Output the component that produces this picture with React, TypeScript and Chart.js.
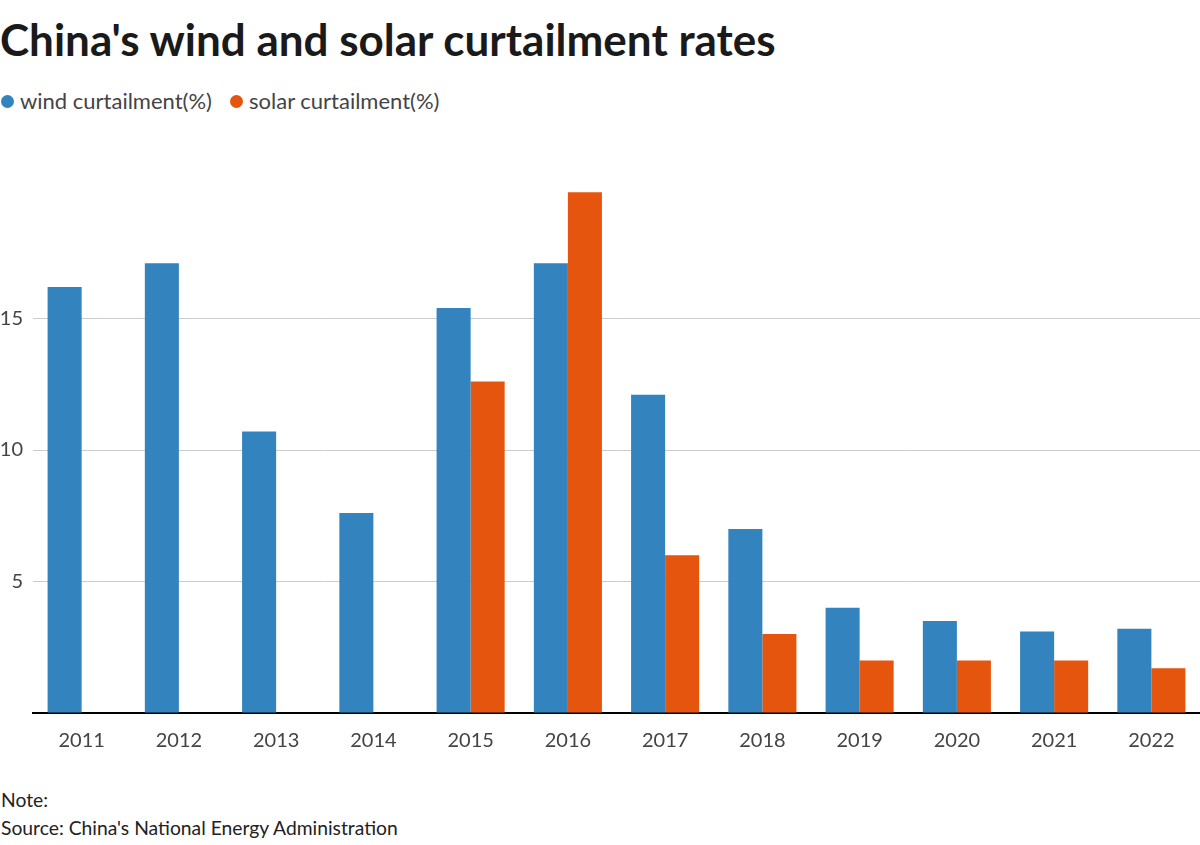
import React, { useEffect, useRef } from "react";
import { Chart, registerables } from "chart.js";

Chart.register(...registerables);

const years = ["2011", "2012", "2013", "2014", "2015", "2016", "2017", "2018", "2019", "2020", "2021", "2022"];
const windCurtailment = [16.2, 17.1, 10.7, 7.6, 15.4, 17.1, 12.1, 7.0, 4.0, 3.5, 3.1, 3.2];
const solarCurtailment = [null, null, null, null, 12.6, 19.8, 6.0, 3.0, 2.0, 2.0, 2.0, 1.7];
const yTicks = [0, 5, 10, 15, 20];

const BLUE = "#3283be";
const ORANGE = "#e6550d";
const FONT = "Lato, 'Noto Sans', sans-serif";

export default function App() {
  const canvasRef = useRef<HTMLCanvasElement | null>(null);

  useEffect(() => {
    if (!canvasRef.current) return;
    const chart = new Chart(canvasRef.current, {
      type: "bar",
      data: {
        labels: years,
        datasets: [
          {
            label: "wind curtailment(%)",
            data: windCurtailment,
            backgroundColor: BLUE,
            barPercentage: 1,
            categoryPercentage: 0.7,
          },
          {
            label: "solar curtailment(%)",
            data: solarCurtailment as any,
            backgroundColor: ORANGE,
            barPercentage: 1,
            categoryPercentage: 0.7,
          },
        ],
      },
      options: {
        animation: false,
        responsive: false,
        maintainAspectRatio: false,
        layout: { padding: { top: 67, bottom: 9, left: 0, right: 0 } },
        plugins: {
          legend: { display: false },
          title: { display: false },
          tooltip: { enabled: false },
        },
        scales: {
          x: {
            grid: { display: false },
            border: { display: true, color: "#000", width: 2 },
            ticks: {
              color: "#444",
              font: { family: FONT, size: 20 },
              padding: 8,
            },
          },
          y: {
            min: 0,
            max: 20,
            afterBuildTicks: (axis: any) => {
              axis.ticks = yTicks.map((v) => ({ value: v }));
            },
            afterFit: (axis: any) => {
              axis.width = 33;
            },
            border: { display: false },
            grid: {
              drawTicks: false,
              color: (ctx: any) =>
                ctx.tick && (ctx.tick.value === 0 || ctx.tick.value === 20) ? "rgba(0,0,0,0)" : "#cccccc",
              lineWidth: 1,
            },
            ticks: {
              color: "#444",
              font: { family: FONT, size: 20 },
              padding: 10,
              callback: (v: any) => (v === 0 || v === 20 ? "" : String(v)),
            },
          },
        },
      },
    });
    return () => chart.destroy();
  }, []);

  const legendItem = (color: string, text: string, left: number) => (
    <div style={{ position: "absolute", left, top: 0, display: "flex", alignItems: "center", height: 26 }}>
      <span style={{ width: 13, height: 13, borderRadius: "50%", background: color, display: "inline-block", marginRight: 6 }} />
      <span style={{ fontFamily: FONT, fontSize: 22, color: "#444", lineHeight: "26px" }}>{text}</span>
    </div>
  );

  return (
    <div style={{ position: "absolute", left: 0, top: 0, width: 1200, height: 845, background: "#fff", overflow: "hidden" }}>
      <div
        style={{
          position: "absolute",
          left: 0,
          top: 13,
          fontFamily: FONT,
          fontWeight: 700,
          fontSize: 44,
          lineHeight: "52px",
          color: "#1a1a1a",
          whiteSpace: "nowrap",
        }}
      >
        China's wind and solar curtailment rates
      </div>
      <div style={{ position: "absolute", left: 0, top: 88, width: 1200, height: 26 }}>
        {legendItem(BLUE, "wind curtailment(%)", 1)}
        {legendItem(ORANGE, "solar curtailment(%)", 230)}
      </div>
      <canvas ref={canvasRef} width={1200} height={650} style={{ position: "absolute", left: 0, top: 120, width: 1200, height: 650 }} />
      <div
        style={{
          position: "absolute",
          left: 1,
          top: 786,
          fontFamily: FONT,
          fontSize: 19.3,
          lineHeight: "28px",
          color: "#222",
          whiteSpace: "nowrap",
        }}
      >
        <div>Note:</div>
        <div>Source: China's National Energy Administration</div>
      </div>
    </div>
  );
}
